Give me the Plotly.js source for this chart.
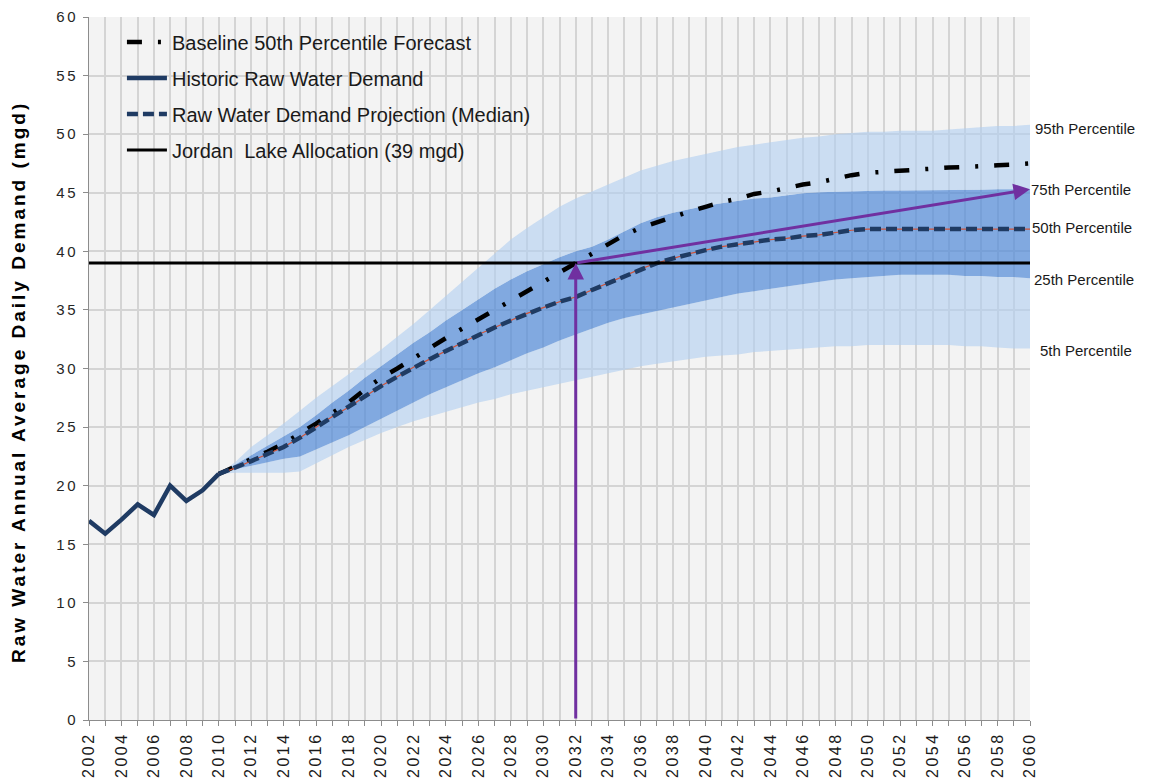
<!DOCTYPE html>
<html>
<head>
<meta charset="utf-8">
<script src="https://cdn.plot.ly/plotly-3.0.1.min.js"></script>
<style>
  html, body { margin: 0; padding: 0; background: #ffffff; }
  #chart { width: 1150px; height: 783px; }
  /* wide, GDI-like letter spacing for axis texts */
  #chart .xtick text { letter-spacing: 2.5px; }
  #chart .ytick text { letter-spacing: 2.5px; }
  #chart g.annotation[data-index="7"] text { letter-spacing: 3px; }
</style>
</head>
<body>
<div id="chart"></div>
<script>
// Historic raw water demand (mgd)
const historicYears = [2002, 2003, 2004, 2005, 2006, 2007, 2008, 2009, 2010];
const historicDemand = [17.0, 15.9, 17.1, 18.4, 17.5, 20.0, 18.7, 19.6, 21.0];

// Projection years 2010-2060
const projYears = [];
for (let y = 2010; y <= 2060; y++) projYears.push(y);

// Raw water demand projection (median)
const projMedian = [
  21.0, 21.5, 22.1, 22.7, 23.3, 24.1, 25.0, 25.9, 26.7, 27.6,
  28.5, 29.3, 30.1, 30.8, 31.5, 32.2, 32.9, 33.5, 34.1, 34.7,
  35.2, 35.7, 36.1, 36.7, 37.3, 37.9, 38.5, 39.0, 39.4, 39.8,
  40.1, 40.4, 40.6, 40.8, 41.0, 41.1, 41.3, 41.4, 41.6, 41.8,
  41.9, 41.9, 41.9, 41.9, 41.9, 41.9, 41.9, 41.9, 41.9, 41.9, 41.9
];

// Baseline 50th percentile forecast
const baselineForecast = [
  21.0, 21.6, 22.2, 22.9, 23.6, 24.4, 25.3, 26.2, 27.1, 28.2,
  29.2, 30.0, 30.9, 31.8, 32.6, 33.4, 34.2, 35.0, 35.8, 36.6,
  37.4, 38.2, 39.0, 39.8, 40.6, 41.4, 42.0, 42.5, 43.0, 43.4,
  43.8, 44.2, 44.5, 44.9, 45.1, 45.4, 45.7, 45.9, 46.2, 46.5,
  46.7, 46.8, 46.9, 47.0, 47.1, 47.15, 47.2, 47.3, 47.35, 47.4, 47.5
];

// Percentile envelope of the projection
const p5 = [
  21.0, 21.1, 21.1, 21.1, 21.1, 21.2, 21.9, 22.6, 23.3, 23.9,
  24.5, 25.0, 25.5, 25.9, 26.3, 26.7, 27.1, 27.4, 27.8, 28.1,
  28.4, 28.7, 29.0, 29.3, 29.6, 29.9, 30.2, 30.4, 30.6, 30.8,
  31.0, 31.1, 31.2, 31.4, 31.5, 31.6, 31.7, 31.8, 31.9, 31.9,
  32.0, 32.0, 32.0, 32.0, 32.0, 32.0, 31.9, 31.9, 31.8, 31.7, 31.7
];
const p25 = [
  21.0, 21.4, 21.7, 22.0, 22.3, 22.5, 23.1, 23.7, 24.3, 25.0,
  25.7, 26.4, 27.1, 27.8, 28.4, 29.0, 29.6, 30.1, 30.7, 31.3,
  31.8, 32.4, 32.9, 33.4, 33.9, 34.3, 34.6, 34.9, 35.2, 35.5,
  35.8, 36.1, 36.4, 36.6, 36.8, 37.0, 37.2, 37.4, 37.6, 37.7,
  37.8, 37.9, 38.0, 38.0, 38.0, 38.0, 37.9, 37.9, 37.8, 37.8, 37.7
];
const p75 = [
  21.0, 21.8, 22.6, 23.4, 24.2, 25.0, 26.0, 27.1, 28.1, 29.2,
  30.2, 31.2, 32.2, 33.1, 34.1, 35.0, 35.9, 36.8, 37.6, 38.3,
  38.9, 39.5, 40.0, 40.4, 41.0, 41.7, 42.4, 42.9, 43.3, 43.6,
  43.9, 44.1, 44.3, 44.5, 44.6, 44.8, 44.95, 45.05, 45.1, 45.15,
  45.2, 45.2, 45.2, 45.2, 45.2, 45.2, 45.25, 45.25, 45.3, 45.3, 45.3
];
const p95 = [
  21.0, 22.0, 23.3, 24.3, 25.3, 26.4, 27.5, 28.5, 29.5, 30.6,
  31.6, 32.7, 33.8, 35.0, 36.2, 37.4, 38.6, 39.8, 41.0, 42.0,
  42.9, 43.8, 44.5, 45.1, 45.7, 46.3, 46.9, 47.3, 47.7, 48.0,
  48.3, 48.6, 48.9, 49.1, 49.3, 49.5, 49.7, 49.8, 50.0, 50.1,
  50.2, 50.2, 50.3, 50.3, 50.3, 50.4, 50.5, 50.6, 50.7, 50.7, 50.8
];

// Jordan Lake allocation and the year demand first reaches it
const allocationMgd = 39;
const allocationYears = [2002, 2060];
const crossingYear = 2032;

// Percentile labels at the right edge
const percentileLabels = ["95th Percentile", "75th Percentile", "50th Percentile", "25th Percentile", "5th Percentile"];
const percentileSeries = [p95, p75, projMedian, p25, p5];
const labelNudge = [-0.3, 0.0, 0.1, -0.1, -0.2];
const labelShift = [3, -1, 0, 2, 8];

const yTitle = "Raw Water Annual Average Daily Demand (mgd)";

const FONT = "Arial, 'Liberation Sans', sans-serif";
const lightFill = "rgba(178,207,240,0.62)";
const darkFill = "rgba(84,140,216,0.72)";
const navy = "#1f3b63";
const purple = "#7030a0";

const xTickVals = [];
for (let y = 2002; y <= 2060; y += 2) xTickVals.push(y);

const traces = [
  // percentile envelope
  { x: projYears, y: p5, type: "scatter", mode: "lines", line: { width: 0, color: lightFill },
    showlegend: false, hoverinfo: "skip" },
  { x: projYears, y: p25, type: "scatter", mode: "lines", line: { width: 0, color: lightFill },
    fill: "tonexty", fillcolor: lightFill, showlegend: false, hoverinfo: "skip" },
  { x: projYears, y: p75, type: "scatter", mode: "lines", line: { width: 0, color: darkFill },
    fill: "tonexty", fillcolor: darkFill, showlegend: false, hoverinfo: "skip" },
  { x: projYears, y: p95, type: "scatter", mode: "lines", line: { width: 0, color: lightFill },
    fill: "tonexty", fillcolor: lightFill, showlegend: false, hoverinfo: "skip" },

  // legend order: baseline, historic, median, allocation
  { x: projYears, y: baselineForecast, type: "scatter", mode: "lines",
    name: "Baseline 50th Percentile Forecast", legendgroup: "a",
    line: { color: "#000000", width: 4.5, dash: "15px,16px,3px,16px" } },
  { x: historicYears, y: historicDemand, type: "scatter", mode: "lines",
    name: "Historic Raw Water Demand", legendgroup: "b",
    line: { color: navy, width: 4.5 } },
  { x: projYears, y: projMedian, type: "scatter", mode: "lines",
    showlegend: false, hoverinfo: "skip",
    line: { color: "#d0543a", width: 1.2 } },
  { x: projYears, y: projMedian, type: "scatter", mode: "lines",
    name: "Raw Water Demand Projection (Median)", legendgroup: "c",
    line: { color: navy, width: 4.5, dash: "11px,5px" } },
  { x: allocationYears, y: allocationYears.map(() => allocationMgd), type: "scatter", mode: "lines",
    name: "Jordan  Lake Allocation (39 mgd)", legendgroup: "d",
    line: { color: "#000000", width: 3 } }
];

const endIdx = projYears.length - 1;
const annotations = [
  // vertical arrow up to the allocation in the crossing year
  { x: crossingYear, y: allocationMgd, ax: crossingYear, ay: 0, xref: "x", yref: "y",
    axref: "x", ayref: "y", text: "", showarrow: true, arrowhead: 2, arrowsize: 1.1,
    arrowwidth: 3, arrowcolor: purple, standoff: 0 },
  // arrow from the crossing point to the 2060 75th percentile
  { x: projYears[endIdx], y: p75[endIdx], ax: crossingYear, ay: allocationMgd, xref: "x", yref: "y",
    axref: "x", ayref: "y", text: "", showarrow: true, arrowhead: 2, arrowsize: 1.1,
    arrowwidth: 3, arrowcolor: purple, standoff: 0 }
];
percentileLabels.forEach((t, i) => {
  annotations.push({
    x: projYears[endIdx], y: percentileSeries[i][endIdx] + labelNudge[i], xref: "x", yref: "y",
    text: t, showarrow: false, xanchor: "left", yanchor: "middle", xshift: labelShift[i],
    font: { family: FONT, size: 15, color: "#1a1a1a" }
  });
});
// y-axis title (index 7)
annotations.push({
  x: 0, y: 0.5, xref: "paper", yref: "paper", xshift: -71, yshift: -14,
  text: "<b>" + yTitle + "</b>", textangle: -90, showarrow: false,
  xanchor: "center", yanchor: "middle",
  font: { family: FONT, size: 19, color: "#000000" }
});

const layout = {
  width: 1150, height: 783,
  margin: { l: 89, r: 120, t: 17, b: 63 },
  paper_bgcolor: "#ffffff",
  plot_bgcolor: "#f3f3f3",
  font: { family: FONT, color: "#1a1a1a" },
  showlegend: true,
  legend: {
    x: 0.035, y: 0.992, xanchor: "left", yanchor: "top",
    bgcolor: "rgba(0,0,0,0)", borderwidth: 0,
    traceorder: "grouped", tracegroupgap: 7,
    font: { family: FONT, size: 20, color: "#1a1a1a" },
    itemwidth: 40
  },
  xaxis: {
    range: [2002, 2060],
    tickmode: "array", tickvals: xTickVals, ticktext: xTickVals.map(String),
    tickangle: -90, tickfont: { family: FONT, size: 16, color: "#1a1a1a" },
    ticks: "outside", ticklen: 5, tickcolor: "#8c8c8c",
    showgrid: true, gridcolor: "#d4d4d4", gridwidth: 2,
    minor: { dtick: 1, tick0: 2002, showgrid: true, gridcolor: "#d4d4d4", gridwidth: 2,
             ticks: "outside", ticklen: 5, tickcolor: "#8c8c8c" },
    showline: true, linecolor: "#8c8c8c", linewidth: 1,
    zeroline: false, fixedrange: true
  },
  yaxis: {
    range: [0, 60], dtick: 5, tick0: 0,
    tickfont: { family: FONT, size: 15, color: "#262626" },
    ticks: "outside", ticklen: 5, tickcolor: "#8c8c8c", ticklabelstandoff: 2,
    showgrid: true, gridcolor: "#d4d4d4", gridwidth: 2,
    showline: true, linecolor: "#8c8c8c", linewidth: 1,
    zeroline: false, fixedrange: true
  },
  annotations: annotations
};

Plotly.newPlot("chart", traces, layout, { displayModeBar: false, staticPlot: true });
</script>
</body>
</html>
